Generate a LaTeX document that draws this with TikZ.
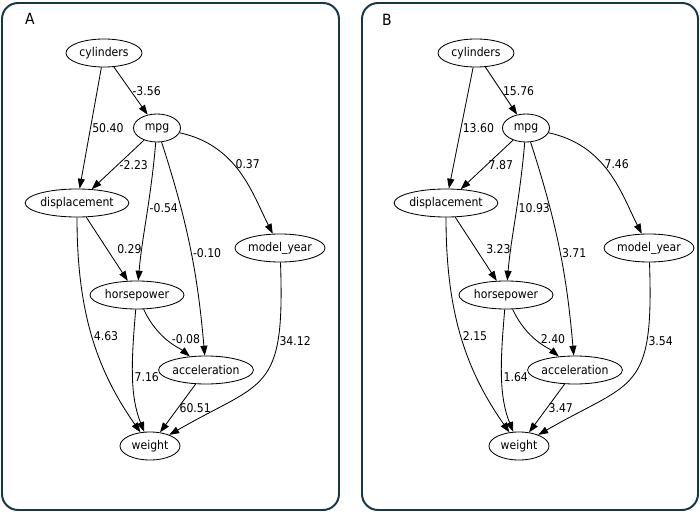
\documentclass[tikz,border=0pt]{standalone}
\usepackage{fontspec}
\setmainfont{DejaVu Sans Condensed}
\usetikzlibrary{shapes.geometric,arrows.meta}
\definecolor{PanelEdge}{HTML}{17374A}
\tikzset{
  var/.style={draw,ellipse,inner sep=0pt,line width=0.6pt,minimum height=0.7cm,font=\fontsize{8.6}{10}\selectfont},
  coef/.style={right,inner sep=1pt,font=\fontsize{8.6}{10}\selectfont},
  edge/.style={-{Triangle[length=7pt,width=5pt]},line width=0.6pt},
  panel/.style={draw=PanelEdge,line width=1.4pt,rounded corners=0.4cm},
  tag/.style={font=\fontsize{11}{12}\selectfont},
}

\begin{document}
\begin{tikzpicture}[x=0.025cm,y=-0.025cm]
\useasboundingbox (0,0) rectangle (700,512);
\draw[panel] (2,3) rectangle (339,510);
\draw[panel] (362,3) rectangle (698,510);
\node[tag] (tagA) at (30,19) {A};
\node[tag] (tagB) at (387,20) {B};

% panel A
\begin{scope}[name prefix=a-]
\node[var,minimum width=1.9cm] (cyl) at (104,53) {cylinders};
\node[var,minimum width=1.175cm] (mpg) at (157,128) {mpg};
\node[var,minimum width=2.5cm] (disp) at (77,203) {displacement};
\node[var,minimum width=2.25cm] (my) at (280,248) {model\_year};
\node[var,minimum width=2.35cm] (hp) at (137,295) {horsepower};
\node[var,minimum width=2.3cm] (acc) at (206,370) {acceleration};
\node[var,minimum width=1.5cm] (wt) at (150,446) {weight};
\draw[edge] (cyl) -- node[coef] {-3.56} (mpg);
\draw[edge] (cyl) -- node[coef] {50.40} (disp);
\draw[edge] (mpg) -- node[coef] {-2.23} (disp);
\draw[edge] (mpg) to[out=-95,in=85] node[coef,pos=0.43] {-0.54} (hp);
\draw[edge] (mpg) to[out=-72,in=95] node[coef] {-0.10} (acc);
\draw[edge] (mpg) to[out=-12,in=117] node[coef,pos=0.42] {0.37} (my);
\draw[edge] (disp) -- node[coef,xshift=6pt] {0.29} (hp);
\draw[edge] (disp) to[out=-90,in=125] node[coef] {4.63} (wt);
\draw[edge] (hp) to[out=-65,in=140] node[coef,pos=0.45,xshift=3pt] {-0.08} (acc);
\draw[edge] (hp) to[out=-95,in=112] node[coef] {7.16} (wt);
\draw[edge] (acc) -- node[coef] {60.51} (wt);
\draw[edge] (my) to[out=-88,in=30,looseness=1.5] node[coef,pos=0.27] {34.12} (wt);
\end{scope}

% panel B
\begin{scope}[shift={(369,0)},name prefix=b-]
\node[var,minimum width=1.9cm] (cyl) at (107,53) {cylinders};
\node[var,minimum width=1.175cm] (mpg) at (157,128) {mpg};
\node[var,minimum width=2.5cm] (disp) at (77,203) {displacement};
\node[var,minimum width=2.25cm] (my) at (280,248) {model\_year};
\node[var,minimum width=2.35cm] (hp) at (137,295) {horsepower};
\node[var,minimum width=2.3cm] (acc) at (206,370) {acceleration};
\node[var,minimum width=1.5cm] (wt) at (150,446) {weight};
\draw[edge] (cyl) -- node[coef] {15.76} (mpg);
\draw[edge] (cyl) -- node[coef] {13.60} (disp);
\draw[edge] (mpg) -- node[coef] {7.87} (disp);
\draw[edge] (mpg) to[out=-95,in=85] node[coef,pos=0.43] {10.93} (hp);
\draw[edge] (mpg) to[out=-72,in=95] node[coef] {3.71} (acc);
\draw[edge] (mpg) to[out=-12,in=117] node[coef,pos=0.42] {7.46} (my);
\draw[edge] (disp) -- node[coef,xshift=6pt] {3.23} (hp);
\draw[edge] (disp) to[out=-90,in=125] node[coef] {2.15} (wt);
\draw[edge] (hp) to[out=-65,in=140] node[coef,pos=0.45,xshift=3pt] {2.40} (acc);
\draw[edge] (hp) to[out=-95,in=112] node[coef] {1.64} (wt);
\draw[edge] (acc) -- node[coef] {3.47} (wt);
\draw[edge] (my) to[out=-88,in=30,looseness=1.5] node[coef,pos=0.27] {3.54} (wt);
\end{scope}
\end{tikzpicture}
\end{document}
